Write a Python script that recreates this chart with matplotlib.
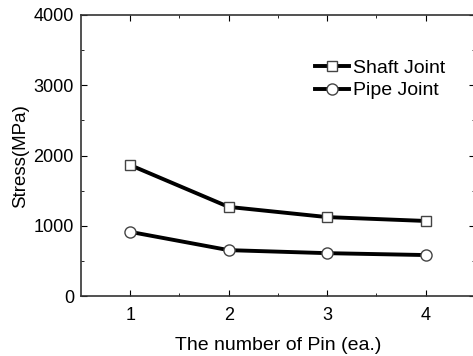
import matplotlib.pyplot as plt

plt.rcParams['font.family'] = ['Liberation Sans', 'DejaVu Sans']

# Data
pins = [1, 2, 3, 4]
shaft_joint = [1865, 1270, 1125, 1070]
pipe_joint = [915, 655, 612, 585]

fig = plt.figure(figsize=(4.73, 3.56), dpi=100)
ax = fig.add_axes([0.171, 0.168, 0.833, 0.790])

ax.plot(pins, shaft_joint, color='black', lw=2.8, marker='s', ms=7,
        mfc='white', mec='#444444', mew=1.0, label='Shaft Joint')
ax.plot(pins, pipe_joint, color='black', lw=2.8, marker='o', ms=8,
        mfc='white', mec='#444444', mew=1.0, label='Pipe Joint')

ax.set_xlim(0.5, 4.5)
ax.set_ylim(0, 4000)
ax.set_xticks(pins)
ax.set_xticks([1.5, 2.5, 3.5], minor=True)
ax.set_yticks([0, 1000, 2000, 3000, 4000])
ax.set_yticks([500, 1500, 2500, 3500], minor=True)
ax.tick_params(which='both', direction='in', top=True, right=True, labelsize=13)
ax.tick_params(which='major', length=4)
ax.tick_params(which='minor', length=2.5)
ax.tick_params(axis='x', pad=8)
ax.tick_params(axis='y', pad=5)

for s in ax.spines.values():
    s.set_linewidth(1.2)
    s.set_color('#333333')

ax.set_xlabel('The number of Pin (ea.)', fontsize=14, labelpad=9)
ax.set_ylabel('Stress(MPa)', fontsize=13.5, labelpad=3)

ax.legend(loc='upper left', bbox_to_anchor=(0.575, 0.87), frameon=False,
          fontsize=14, handlelength=1.75, handletextpad=0.2, labelspacing=0.25,
          borderaxespad=0)

fig.savefig('out.png', dpi=100)
